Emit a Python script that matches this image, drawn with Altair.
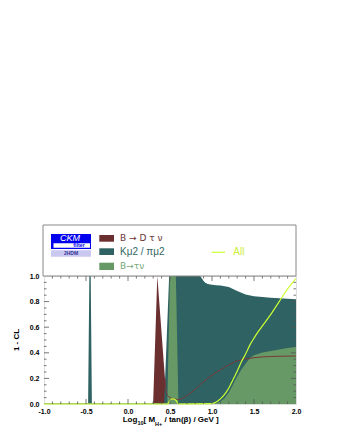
import altair as alt
import pandas as pd

# ---- data ----
bd_x = [-1.0, 0.29, 0.30, 0.349, 0.40, 0.44, 0.46, 0.50, 0.55, 0.60, 0.65, 0.70, 0.80, 0.90, 1.00, 1.10, 1.20, 1.30, 1.40, 1.50, 1.60, 1.70, 1.80, 1.90, 2.00]
bd_y = [0.0, 0.0, 0.02, 1.0, 0.55, 0.2, 0.08, 0.05, 0.04, 0.035, 0.045, 0.065, 0.115, 0.175, 0.225, 0.268, 0.305, 0.337, 0.352, 0.362, 0.368, 0.371, 0.373, 0.374, 0.375]

k_x = [-1.0, -0.475, -0.46, -0.444, -0.43, 0.43, 0.49, 0.857, 0.87, 0.90, 0.92, 0.95, 1.00, 1.05, 1.10, 1.20, 1.30, 1.40, 1.50, 1.60, 1.70, 1.80, 1.90, 2.00]
k_y = [0.0, 0.0, 1.0, 1.0, 0.0, 0.0, 1.0, 1.0, 0.99, 0.96, 0.947, 0.938, 0.932, 0.928, 0.925, 0.915, 0.883, 0.856, 0.842, 0.835, 0.83, 0.826, 0.822, 0.818]

g_x = [-1.0, 0.468, 0.50, 0.57, 0.60, 1.05, 1.10, 1.15, 1.20, 1.25, 1.30, 1.35, 1.40, 1.45, 1.50, 1.60, 1.70, 1.80, 1.90, 2.00]
g_y = [0.006, 0.006, 1.0, 1.0, 0.006, 0.006, 0.02, 0.045, 0.09, 0.15, 0.215, 0.27, 0.315, 0.36, 0.38, 0.403, 0.415, 0.425, 0.437, 0.445]

all_x = [-1.0, 0.47, 0.50, 0.53, 0.57, 0.60, 1.00, 1.05, 1.10, 1.15, 1.20, 1.25, 1.30, 1.35, 1.40, 1.45, 1.50, 1.55, 1.60, 1.70, 1.80, 1.90, 2.00]
all_y = [0.0, 0.0, 0.03, 0.04, 0.03, 0.0, 0.003, 0.015, 0.04, 0.075, 0.125, 0.19, 0.255, 0.33, 0.39, 0.46, 0.515, 0.565, 0.61, 0.70, 0.80, 0.90, 0.98]

x_labels = [-1.0, -0.5, 0.0, 0.5, 1.0, 1.5, 2.0]
y_labels = [0.0, 0.2, 0.4, 0.6, 0.8, 1.0]
x_minor = [-0.9, -0.8, -0.7, -0.6, -0.4, -0.3, -0.2, -0.1, 0.1, 0.2, 0.3, 0.4, 0.6, 0.7, 0.8, 0.9, 1.1, 1.2, 1.3, 1.4, 1.6, 1.7, 1.8, 1.9]
x_major = [-0.5, 0.0, 0.5, 1.0, 1.5]
y_minor = [0.05, 0.1, 0.15, 0.25, 0.3, 0.35, 0.45, 0.5, 0.55, 0.65, 0.7, 0.75, 0.85, 0.9, 0.95]
y_major = [0.2, 0.4, 0.6, 0.8]

legend_labels = ["B \u2192 D \u03c4 \u03bd", "K\u03bc2 / \u03c0\u03bc2", "B\u2192\u03c4\u03bd", "All"]

C_BD = "#6b2f2f"
C_K = "#2f6262"
C_G = "#669966"
C_ALL = "#ccff33"
FONT = "Liberation Sans"
FONT2 = "DejaVu Sans"

W, H = 252, 128

xs = alt.Scale(domain=[-1, 2], nice=False, zero=False)
ys = alt.Scale(domain=[0, 1], nice=False, zero=False)

x_axis = alt.Axis(values=x_labels, title="", ticks=False, domain=False, grid=False,
                  labelFont=FONT, labelFontWeight="bold", labelFontSize=7, labelColor="#000",
                  labelPadding=3, labelFlush=False,
                  labelExpr="datum.value < 0 ? '-' + format(-datum.value, '.1f') : format(datum.value, '.1f')")
y_axis = alt.Axis(values=y_labels, title="", ticks=False, domain=False, grid=False, format=".1f",
                  labelFont=FONT, labelFontWeight="bold", labelFontSize=7, labelColor="#000",
                  labelPadding=5, labelFlush=False)

X = alt.X("x:Q", scale=xs, axis=x_axis)
Y = alt.Y("y:Q", scale=ys, axis=y_axis)

df_bd = pd.DataFrame({"x": bd_x, "y": bd_y})
df_bdl = df_bd[df_bd["x"] >= 0.44]
df_k = pd.DataFrame({"x": k_x, "y": k_y})
df_g = pd.DataFrame({"x": g_x, "y": g_y})
df_all = pd.DataFrame({"x": all_x, "y": all_y})

bd_area = alt.Chart(df_bd).mark_area(color=C_BD, opacity=1).encode(x=X, y=Y)
k_area = alt.Chart(df_k).mark_area(color=C_K, opacity=1).encode(x=X, y=Y)
g_area = alt.Chart(df_g).mark_area(color=C_G, opacity=1).encode(x=X, y=Y)
bd_line = alt.Chart(df_bdl).mark_line(color="#7a3838", strokeWidth=1, interpolate="monotone").encode(x=X, y=Y)
all_line = alt.Chart(df_all).mark_line(color=C_ALL, strokeWidth=1.2, interpolate="monotone").encode(x=X, y=Y)

TC = "#555555"
def xticks(vals, L):
    d = pd.DataFrame({"x": vals})
    bot = alt.Chart(d).mark_rule(color=TC, strokeWidth=0.8).encode(
        x=X, y=alt.value(H), y2=alt.value(H - L))
    top = alt.Chart(d).mark_rule(color=TC, strokeWidth=0.8).encode(
        x=X, y=alt.value(0), y2=alt.value(L))
    return [bot, top]

def yticks(vals, L):
    d = pd.DataFrame({"y": vals})
    left = alt.Chart(d).mark_rule(color=TC, strokeWidth=0.8).encode(
        y=Y, x=alt.value(0), x2=alt.value(L))
    right = alt.Chart(d).mark_rule(color=TC, strokeWidth=0.8).encode(
        y=Y, x=alt.value(W), x2=alt.value(W - L))
    return [left, right]

ticks = xticks(x_minor, 2.5) + xticks(x_major, 5) + yticks(y_minor, 2.5) + yticks(y_major, 5)

one = pd.DataFrame({"a": [0]})

def box(x1, x2, y1, y2, fill, stroke=None):
    kw = dict(fill=fill)
    if stroke:
        kw.update(stroke=stroke, strokeWidth=1)
    return alt.Chart(one).mark_rect(**kw).encode(
        x=alt.value(x1), x2=alt.value(x2), y=alt.value(y1), y2=alt.value(y2))

def txt(s, x, y, size, color, align="left", weight="normal", style="normal", angle=0,
        baseline="alphabetic", font=FONT):
    kw = dict(text=s, font=font, fontSize=size, color=color, align=align, fontWeight=weight,
              fontStyle=style, baseline=baseline)
    if angle:
        kw["angle"] = angle
    return alt.Chart(one).mark_text(**kw).encode(x=alt.value(x), y=alt.value(y))

legend = [
    box(-1, W, -51, 0, "white", "#888888"),
    # CKMfitter logo
    box(7, 47, -42, -27, "#0000ee"),
    box(9.5, 46, -32.7, -28.3, "white"),
    txt("CKM", 26, -34.6, 9, "white", align="center", style="italic"),
    txt("filter", 35, -28.7, 5.3, "#0000ee", align="center", weight="bold"),
    box(7, 47, -25.7, -19.3, "#c8c8f0"),
    txt("2HDM", 27, -20.7, 5, "#333399", align="center", weight="bold"),
    # entries
    box(55.3, 70, -41, -34.3, C_BD),
    box(55.3, 70, -27.7, -21, C_K),
    box(55.3, 70, -13.3, -6, C_G),
    txt(legend_labels[0], 76, -37.7, 9, "#6b3333", baseline="middle", font=FONT2),
    txt(legend_labels[1], 76, -24.3, 10, "#336666", baseline="middle"),
    txt(legend_labels[2], 76, -10, 9, "#77aa77", baseline="middle", font=FONT2),
    alt.Chart(one).mark_rule(color=C_ALL, strokeWidth=1.2).encode(
        x=alt.value(167.7), x2=alt.value(181), y=alt.value(-23.7)),
    txt(legend_labels[3], 189.3, -23.7, 10, "#ccee33", baseline="middle"),
]

titles = [
    txt("1 - CL", -27, 64, 8, "#000", align="center", weight="bold", angle=270, baseline="middle"),
    txt("Log", 78.7, 146, 8, "#000", weight="bold"),
    txt("10", 93.4, 149, 5.5, "#000", weight="bold"),
    txt("[ M", 99.5, 146, 8, "#000", weight="bold"),
    txt("H+", 111.1, 149.5, 5.5, "#000", weight="bold"),
    txt("/ tan(\u03b2) / GeV ]", 120.5, 146, 8, "#000", weight="bold"),
]

chart = alt.layer(bd_area, k_area, g_area, bd_line, all_line, *ticks, *legend, *titles).properties(
    width=W, height=H,
    autosize=alt.AutoSizeParams(type="none"),
    padding={"left": 36, "top": 268, "right": 33, "bottom": 24},
).configure_view(stroke="#666666", strokeWidth=1).configure(background="white")

chart.save("out.html", embed_options={"renderer": "svg", "actions": False})
